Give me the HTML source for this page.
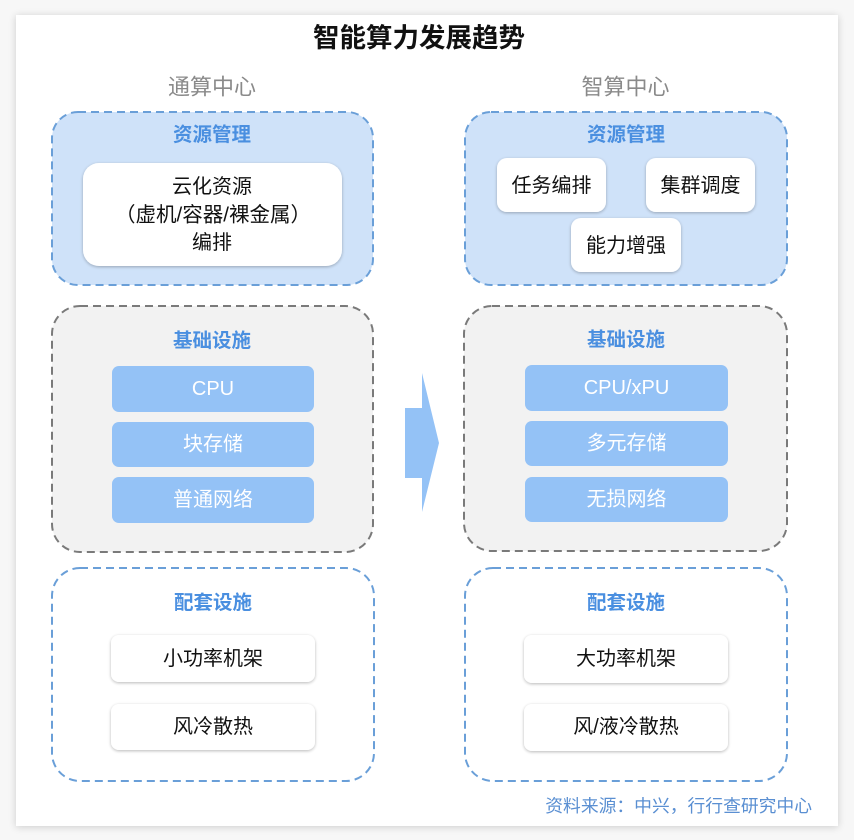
<!DOCTYPE html>
<html><head><meta charset="utf-8">
<style>
html,body{margin:0;padding:0;width:854px;height:840px;overflow:hidden;background:#f6f6f6;}
svg{display:block;}
text{font-family:"Liberation Sans","Noto Sans CJK SC",sans-serif;}
</style></head>
<body>
<svg width="854" height="840" viewBox="0 0 854 840" xmlns="http://www.w3.org/2000/svg">
<defs>
  <filter id="cs" x="-5%" y="-5%" width="110%" height="110%">
    <feGaussianBlur in="SourceAlpha" stdDeviation="4"/>
    <feOffset dx="0" dy="1"/>
    <feComponentTransfer><feFuncA type="linear" slope="0.18"/></feComponentTransfer>
    <feMerge><feMergeNode/><feMergeNode in="SourceGraphic"/></feMerge>
  </filter>
  <filter id="bs" x="-10%" y="-20%" width="120%" height="140%">
    <feGaussianBlur in="SourceAlpha" stdDeviation="1.6"/>
    <feOffset dx="0" dy="1"/>
    <feComponentTransfer><feFuncA type="linear" slope="0.28"/></feComponentTransfer>
    <feMerge><feMergeNode/><feMergeNode in="SourceGraphic"/></feMerge>
  </filter>
</defs>
<rect x="0" y="0" width="854" height="840" fill="#f7f7f7"/>
<rect x="16" y="15" width="822" height="811" fill="#ffffff" filter="url(#cs)"/>

<text x="419" y="38" font-size="26.5" font-weight="bold" fill="#111" text-anchor="middle" dominant-baseline="central">智能算力发展趋势</text>
<text x="212" y="87" font-size="22" fill="#8a8a8a" text-anchor="middle" dominant-baseline="central">通算中心</text>
<text x="625.5" y="87" font-size="22" fill="#8a8a8a" text-anchor="middle" dominant-baseline="central">智算中心</text>

<!-- Resource mgmt left -->
<rect x="52" y="112" width="321" height="173" rx="26" fill="#cfe2f9" stroke="#6a9fd8" stroke-width="2" stroke-dasharray="8 5"/>
<text x="212" y="135" font-size="19.5" font-weight="bold" fill="#4a8fe0" text-anchor="middle" dominant-baseline="central">资源管理</text>
<rect x="83" y="163" width="259" height="103" rx="16" fill="#fff" filter="url(#bs)"/>
<text x="212" y="187" font-size="20" fill="#111" text-anchor="middle" dominant-baseline="central">云化资源</text>
<text x="213" y="215" font-size="20.5" fill="#111" text-anchor="middle" dominant-baseline="central">（虚机/容器/裸金属）</text>
<text x="212" y="243" font-size="20" fill="#111" text-anchor="middle" dominant-baseline="central">编排</text>

<!-- Resource mgmt right -->
<rect x="465" y="112" width="322" height="173" rx="26" fill="#cfe2f9" stroke="#6a9fd8" stroke-width="2" stroke-dasharray="8 5"/>
<text x="626" y="135" font-size="19.5" font-weight="bold" fill="#4a8fe0" text-anchor="middle" dominant-baseline="central">资源管理</text>
<rect x="497" y="158" width="109" height="54" rx="10" fill="#fff" filter="url(#bs)"/>
<text x="551.5" y="186" font-size="20" fill="#111" text-anchor="middle" dominant-baseline="central">任务编排</text>
<rect x="646" y="158" width="109" height="54" rx="10" fill="#fff" filter="url(#bs)"/>
<text x="700.5" y="186" font-size="20" fill="#111" text-anchor="middle" dominant-baseline="central">集群调度</text>
<rect x="571" y="218" width="110" height="54" rx="10" fill="#fff" filter="url(#bs)"/>
<text x="626" y="246" font-size="20" fill="#111" text-anchor="middle" dominant-baseline="central">能力增强</text>

<!-- Infra left -->
<rect x="52" y="306" width="321" height="246" rx="28" fill="#f2f2f2" stroke="#7a7a7a" stroke-width="2" stroke-dasharray="8 5"/>
<text x="212" y="341" font-size="19.5" font-weight="bold" fill="#4a8fe0" text-anchor="middle" dominant-baseline="central">基础设施</text>
<rect x="112" y="366" width="202" height="46" rx="7" fill="#94c2f6"/>
<text x="213" y="389" font-size="20" fill="#fff" text-anchor="middle" dominant-baseline="central">CPU</text>
<rect x="112" y="422" width="202" height="45" rx="7" fill="#94c2f6"/>
<text x="213" y="444.5" font-size="20" fill="#fff" text-anchor="middle" dominant-baseline="central">块存储</text>
<rect x="112" y="477" width="202" height="46" rx="7" fill="#94c2f6"/>
<text x="213" y="500" font-size="20" fill="#fff" text-anchor="middle" dominant-baseline="central">普通网络</text>

<!-- Infra right -->
<rect x="464" y="306" width="323" height="245" rx="28" fill="#f2f2f2" stroke="#7a7a7a" stroke-width="2" stroke-dasharray="8 5"/>
<text x="626" y="340" font-size="19.5" font-weight="bold" fill="#4a8fe0" text-anchor="middle" dominant-baseline="central">基础设施</text>
<rect x="525" y="365" width="203" height="46" rx="7" fill="#94c2f6"/>
<text x="626.5" y="388" font-size="20" fill="#fff" text-anchor="middle" dominant-baseline="central">CPU/xPU</text>
<rect x="525" y="421" width="203" height="45" rx="7" fill="#94c2f6"/>
<text x="626.5" y="443.5" font-size="20" fill="#fff" text-anchor="middle" dominant-baseline="central">多元存储</text>
<rect x="525" y="477" width="203" height="45" rx="7" fill="#94c2f6"/>
<text x="626.5" y="499.5" font-size="20" fill="#fff" text-anchor="middle" dominant-baseline="central">无损网络</text>

<!-- Arrow -->
<polygon points="405,408 422,408 422,373 439,443 422,512 422,478 405,478" fill="#94c2f6"/>

<!-- Support left -->
<rect x="52" y="568" width="322" height="213" rx="28" fill="#fff" stroke="#6a9fd8" stroke-width="2" stroke-dasharray="8 5"/>
<text x="213" y="603" font-size="19.5" font-weight="bold" fill="#4a8fe0" text-anchor="middle" dominant-baseline="central">配套设施</text>
<rect x="111" y="635" width="204" height="47" rx="8" fill="#fff" filter="url(#bs)"/>
<text x="213" y="659" font-size="20" fill="#111" text-anchor="middle" dominant-baseline="central">小功率机架</text>
<rect x="111" y="704" width="204" height="46" rx="8" fill="#fff" filter="url(#bs)"/>
<text x="213" y="727" font-size="20" fill="#111" text-anchor="middle" dominant-baseline="central">风冷散热</text>

<!-- Support right -->
<rect x="465" y="568" width="322" height="213" rx="28" fill="#fff" stroke="#6a9fd8" stroke-width="2" stroke-dasharray="8 5"/>
<text x="626" y="603" font-size="19.5" font-weight="bold" fill="#4a8fe0" text-anchor="middle" dominant-baseline="central">配套设施</text>
<rect x="524" y="635" width="204" height="48" rx="8" fill="#fff" filter="url(#bs)"/>
<text x="626" y="659" font-size="20" fill="#111" text-anchor="middle" dominant-baseline="central">大功率机架</text>
<rect x="524" y="704" width="204" height="47" rx="8" fill="#fff" filter="url(#bs)"/>
<text x="626" y="727" font-size="20" fill="#111" text-anchor="middle" dominant-baseline="central">风/液冷散热</text>

<text x="812" y="806" font-size="17.8" fill="#5a8fd2" text-anchor="end" dominant-baseline="central">资料来源：中兴，行行查研究中心</text>
</svg>
</body></html>
